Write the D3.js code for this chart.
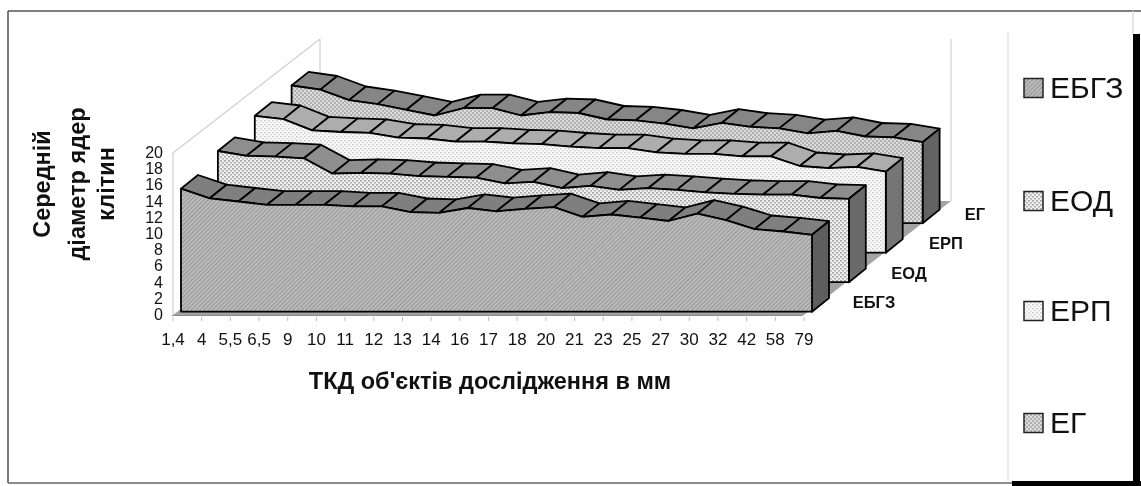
<!DOCTYPE html>
<html><head><meta charset="utf-8">
<style>html,body{margin:0;padding:0;background:#fff}svg{display:block;filter:blur(0.45px)}text{font-family:"Liberation Sans",Arial,sans-serif;fill:#111}</style>
<script src="https://cdn.jsdelivr.net/npm/d3@7/dist/d3.min.js"></script>
</head><body><svg id="c" width="1141" height="486"></svg>
<script>
const categories = ["1,4","4","5,5","6,5","9","10","11","12","13","14","16","17","18","20","21","23","25","27","30","32","42","58","79"];
const seriesNames = ["ЕБГЗ","ЕОД","ЕРП","ЕГ"];
const valuesEBGZ = [15.2,14.0,13.6,13.2,13.2,13.2,13.0,13.0,12.3,12.2,12.8,12.4,12.7,12.9,11.7,12.0,11.6,11.2,12.1,11.3,10.2,9.9,9.5];
const valuesEOD  = [16.2,15.6,15.5,15.3,13.4,13.5,13.4,13.1,13.0,12.9,12.2,12.4,11.6,11.9,11.4,11.6,11.4,11.1,10.9,10.8,10.8,10.4,10.3];
const valuesERP  = [16.9,16.5,15.1,14.9,14.8,14.2,14.1,13.7,13.7,13.5,13.4,13.1,12.9,12.9,12.4,12.2,12.2,11.9,11.9,10.7,10.45,10.6,10.0];
const valuesEG   = [17.0,16.5,15.2,14.7,14.0,13.3,14.2,14.2,13.3,13.7,13.6,12.8,12.7,12.3,11.7,12.4,11.9,11.7,11.1,11.4,10.7,10.6,10.0];
const seriesValues = [valuesEBGZ,valuesEOD,valuesERP,valuesEG];
const yTicks = d3.range(0,21,2);
const topColors = ["#7f7f7f","#8e8e8e","#adadad","#868686"];
const sideColors = ["#5e5e5e","#6a6a6a","#757575","#636363"];
const faceFills = ["url(#pHatch)","url(#pDotA)","url(#pDotB)","url(#pWave)"];

const svg = d3.select("#c");
const defs = svg.append("defs");
const pat = (id,w,h,bg,build,rot)=>{
  const p = defs.append("pattern").attr("id",id).attr("width",w).attr("height",h).attr("patternUnits","userSpaceOnUse");
  if(rot) p.attr("patternTransform",rot);
  p.append("rect").attr("width",w).attr("height",h).attr("fill",bg);
  build(p);
};
pat("pHatch",3,3,"#bdbdbd",p=>p.append("rect").attr("width",3).attr("height",1.1).attr("fill","#969696"),"rotate(-45)");
pat("pDotA",4,4,"#efefef",p=>{
  p.append("rect").attr("x",0).attr("y",0).attr("width",2).attr("height",1.6).attr("fill","#a8a8a8");
  p.append("rect").attr("x",2).attr("y",2).attr("width",2).attr("height",1.6).attr("fill","#b4b4b4");
});
pat("pDotB",4,4,"#fafafa",p=>{
  p.append("rect").attr("x",0).attr("y",0).attr("width",1.6).attr("height",1.4).attr("fill","#c8c8c8");
  p.append("rect").attr("x",2).attr("y",2).attr("width",1.6).attr("height",1.4).attr("fill","#d2d2d2");
});
pat("pWave",4,4,"#dcdcdc",p=>{
  p.append("rect").attr("x",0).attr("y",0).attr("width",2).attr("height",2).attr("fill","#b0b0b0");
  p.append("rect").attr("x",2).attr("y",2).attr("width",2).attr("height",2).attr("fill","#b0b0b0");
});

// frame
const line=(x1,y1,x2,y2,c,w)=>svg.append("line").attr("x1",x1).attr("y1",y1).attr("x2",x2).attr("y2",y2).attr("stroke",c).attr("stroke-width",w);
line(8,11,1141,11,"#555",1.4);
line(8,11,8,483,"#444",1.4);
line(8,483,1012,483,"#666",1.4);
line(1133,11,1133,34,"#ddd",1.5);
line(1008,32,1008,481,"#e4e4e4",1.5);
svg.append("rect").attr("x",1133).attr("y",34).attr("width",7).attr("height",450).attr("fill","#000");
svg.append("rect").attr("x",1012).attr("y",481).attr("width",129).attr("height",5).attr("fill","#000");

// chart box projection: category, value and depth along the floor
const x = d3.scalePoint().domain(d3.range(categories.length)).range([173,804]);
const y = d3.scaleLinear().domain([0,20]).range([315,153]);
const boxDx = d3.scaleLinear().domain([0,4]).range([0,147]);
const boxDy = d3.scaleLinear().domain([0,4]).range([0,-114]);
const px = (i,s)=>x(i)+boxDx(s);
const py = (v,s)=>y(v)+boxDy(s);
// ribbons sit on their own slightly steeper depth scale
const ribDx = d3.scaleLinear().domain([0,4]).range([8,155.5]);
const ribDy = d3.scaleLinear().domain([0,4]).range([-3.3,-121.3]);
const ribX = (i,s)=>x(i)+ribDx(s);
const ribY = (v,s)=>y(v)+ribDy(s);
const poly = pts=>pts.map(p=>p.map(n=>n.toFixed(1)).join(",")).join(" ");
const last = categories.length-1;

// walls and floor
svg.append("polygon").attr("points",poly([[px(0,0),py(0,0)],[px(last,0),py(0,0)],[px(last,4),py(0,4)],[px(0,4),py(0,4)]])).attr("fill","#a3a3a3");
svg.append("polygon").attr("points",poly([[px(0,0),py(0,0)],[px(last,0),py(0,0)],[px(last,0)-2,py(0,0)+1],[px(0,0)-2,py(0,0)+1]])).attr("fill","#8a8a8a");
line(px(0,0),py(20,0),px(0,0),py(0,0),"#cfcfcf",1.2);
line(px(0,0),py(20,0),px(0,4),py(20,4),"#cfcfcf",1.2);
line(px(0,4),py(20,4),px(0,4),py(0,4),"#cfcfcf",1.2);
line(px(last,4),py(20,4),px(last,4),py(0,4),"#cfcfcf",1.2);

// ribbons back to front
const band = .46;           // ribbon depth as a share of one series slot
d3.range(3,-1,-1).forEach(k=>{
  const vals = seriesValues[k], a=k, b=k+band;
  const g = svg.append("g").attr("stroke","#000").attr("stroke-width",1.8).attr("stroke-linejoin","round");
  g.selectAll("polygon.top").data(d3.range(last)).join("polygon").attr("class","top")
    .attr("points",i=>poly([[ribX(i,a),ribY(vals[i],a)],[ribX(i+1,a),ribY(vals[i+1],a)],[ribX(i+1,b),ribY(vals[i+1],b)],[ribX(i,b),ribY(vals[i],b)]]))
    .attr("fill",topColors[k]);
  g.append("polygon").attr("points",poly([[ribX(last,a),ribY(vals[last],a)],[ribX(last,b),ribY(vals[last],b)],[ribX(last,b),ribY(0,b)],[ribX(last,a),ribY(0,a)]])).attr("fill",sideColors[k]);
  const face = vals.map((v,i)=>[ribX(i,a),ribY(v,a)]).concat([[ribX(last,a),ribY(0,a)],[ribX(0,a),ribY(0,a)]]);
  g.append("polygon").attr("points",poly(face)).attr("fill",faceFills[k]);
});

// y axis labels
svg.append("g").attr("text-anchor","end").attr("font-size",16).selectAll("text").data(yTicks).join("text")
  .attr("x",163).attr("y",d=>y(d)+5).text(d=>d);
// x axis
categories.forEach((c,i)=>line(x(i),py(0,0)+2,x(i),py(0,0)+6,"#bbb",1));
svg.append("g").attr("text-anchor","middle").attr("font-size",17).selectAll("text").data(categories).join("text")
  .attr("x",(d,i)=>x(i)).attr("y",345).text(d=>d);
// depth labels
const depthLabelAt = [[874,308],[909,279],[946,249],[975,220]];
svg.append("g").attr("text-anchor","middle").attr("font-size",16.5).attr("font-weight","bold").selectAll("text").data(seriesNames).join("text")
  .attr("x",(d,i)=>depthLabelAt[i][0]).attr("y",(d,i)=>depthLabelAt[i][1]).text(d=>d);

// axis titles
svg.append("text").attr("x",490).attr("y",389).attr("text-anchor","middle").attr("font-size",23.5).attr("font-weight","bold").text("ТКД об'єктів дослідження в мм");
[["Середній",50],["діаметр ядер",85],["клітин",114]].forEach(([t,tx])=>{
  svg.append("text").attr("transform",`translate(${tx},184) rotate(-90)`).attr("text-anchor","middle").attr("font-size",23.5).attr("font-weight","bold").text(t);
});

// legend
const legendY = [88,201,311,423];
const lg = svg.append("g");
seriesNames.forEach((n,i)=>{
  lg.append("rect").attr("x",1024).attr("y",legendY[i]-9.5).attr("width",19).attr("height",19).attr("fill",faceFills[i]).attr("stroke","#222").attr("stroke-width",1.5);
  lg.append("text").attr("x",1050).attr("y",legendY[i]+10).attr("font-size",30).text(n);
});
</script></body></html>
